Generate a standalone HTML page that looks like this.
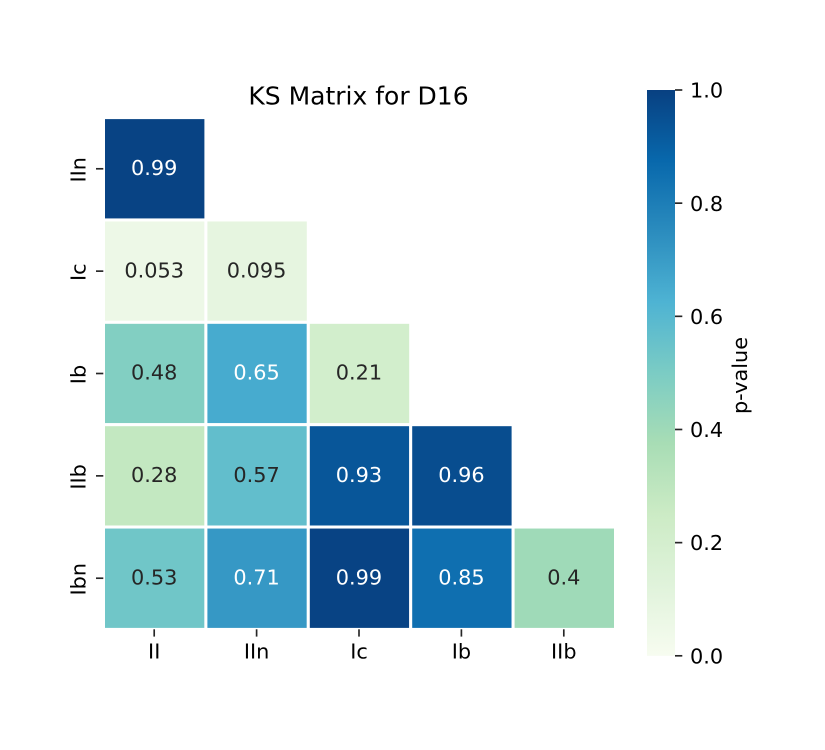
<!DOCTYPE html>
<html lang="en">
<head>
<meta charset="utf-8">
<title>KS Matrix for D16</title>
<style>
html,body{margin:0;padding:0;background:#fff;}
svg{display:block;}
text{font-family:"DejaVu Sans",sans-serif;}
</style>
</head>
<body>
<svg id="chart" xmlns="http://www.w3.org/2000/svg" width="825" height="750" viewBox="0 0 825 750"></svg>
<script>
const xCategories = ['II', 'IIn', 'Ic', 'Ib', 'IIb'];
const yCategories = ['IIn', 'Ic', 'Ib', 'IIb', 'Ibn'];
const rowValues0 = [0.99];
const rowValues1 = [0.053, 0.095];
const rowValues2 = [0.48, 0.65, 0.21];
const rowValues3 = [0.28, 0.57, 0.93, 0.96];
const rowValues4 = [0.53, 0.71, 0.99, 0.85, 0.4];
const colorbarTicks = [0, 0.2, 0.4, 0.6, 0.8, 1];
const colormapHex = ['#f7fcf0', '#e0f3db', '#ccebc5', '#a8ddb5', '#7bccc4', '#4eb3d3', '#2b8cbe', '#0868ac', '#084081'];

const rows = [rowValues0, rowValues1, rowValues2, rowValues3, rowValues4];
const NS = 'http://www.w3.org/2000/svg';
const svg = document.getElementById('chart');
const plot = { left: 103.5, top: 117.6, width: 512, height: 511.8 };
const bar = { left: 647, right: 675, top: 90, bottom: 655.8 };

function xBand(i) { return plot.left + plot.width * i / xCategories.length; }
function yBand(i) { return plot.top + plot.height * i / yCategories.length; }
function barY(v) { return bar.bottom + (bar.top - bar.bottom) * v; }
function parseHex(h) {
  return [parseInt(h.slice(1, 3), 16), parseInt(h.slice(3, 5), 16), parseInt(h.slice(5, 7), 16)];
}
function colorRgb(v) {
  const t = Math.max(0, Math.min(1, v)) * (colormapHex.length - 1);
  const i = Math.min(Math.floor(t), colormapHex.length - 2);
  const a = parseHex(colormapHex[i]);
  const b = parseHex(colormapHex[i + 1]);
  return a.map((c, k) => Math.round(c + (b[k] - c) * (t - i)));
}
function luminance(rgb) {
  const c = rgb.map(x => {
    const s = x / 255;
    return s <= 0.03928 ? s / 12.92 : Math.pow((s + 0.055) / 1.055, 2.4);
  });
  return 0.2126 * c[0] + 0.7152 * c[1] + 0.0722 * c[2];
}
function make(tag, attrs, txt) {
  const el = document.createElementNS(NS, tag);
  for (const k in attrs) el.setAttribute(k, attrs[k]);
  if (txt !== undefined) el.textContent = txt;
  svg.appendChild(el);
  return el;
}

const cellW = plot.width / xCategories.length;
const cellH = plot.height / yCategories.length;

rows.forEach((row, r) => {
  row.forEach((v, c) => {
    const rgb = colorRgb(v);
    const cell = make('rect', {
      x: xBand(c), y: yBand(r), width: cellW, height: cellH,
      fill: 'rgb(' + rgb.join(',') + ')', stroke: '#fff', 'stroke-width': 3
    });
    
    
    const label = make('text', {
      x: xBand(c) + cellW / 2 - 0.5, y: yBand(r) + cellH / 2 + 6.2,
      'text-anchor': 'middle', 'font-size': 20.83,
      fill: luminance(rgb) > 0.408 ? '#262626' : '#ffffff'
    }, String(v));
    
    
  });
});

xCategories.forEach((name, i) => {
  const x = xBand(i) + cellW / 2 - 0.5;
  const tick = make('line', { x1: x, x2: x, y1: 629.3, y2: 636.6, stroke: '#262626', 'stroke-width': 1.67 });
  
  
  const label = make('text', { x: x, y: 658.5, 'text-anchor': 'middle', 'font-size': 20.83, fill: '#000' }, name);
  
  
});

yCategories.forEach((name, i) => {
  const y = yBand(i) + cellH / 2;
  const tick = make('line', { x1: 96, x2: 103.3, y1: y, y2: y, stroke: '#262626', 'stroke-width': 1.67 });
  
  
  const ly = y + 1;
  const label = make('text', {
    x: 85.3, y: ly, 'text-anchor': 'middle', 'font-size': 20.83, fill: '#000',
    transform: 'rotate(-90 85.3 ' + ly + ')'
  }, name);
  
  
});

const title = make('text', { x: 358.5, y: 104.6, 'text-anchor': 'middle', 'font-size': 25, fill: '#000' }, 'KS Matrix for D16');



const defs = make('defs', {});
const grad = document.createElementNS(NS, 'linearGradient');
grad.setAttribute('id', 'cbGrad');
grad.setAttribute('x1', '0');
grad.setAttribute('y1', '1');
grad.setAttribute('x2', '0');
grad.setAttribute('y2', '0');
colormapHex.forEach((hex, i) => {
  const stop = document.createElementNS(NS, 'stop');
  stop.setAttribute('offset', i / (colormapHex.length - 1));
  stop.setAttribute('stop-color', hex);
  grad.appendChild(stop);
});
defs.appendChild(grad);

const cb = make('rect', {
  x: bar.left, y: bar.top, width: bar.right - bar.left, height: bar.bottom - bar.top, fill: 'url(#cbGrad)'
});



colorbarTicks.forEach(v => {
  const y = barY(v);
  const tick = make('line', { x1: bar.right, x2: bar.right + 7.3, y1: y, y2: y, stroke: '#262626', 'stroke-width': 1.67 });
  
  
  const label = make('text', { x: 690, y: y + 7.6, 'font-size': 20.83, fill: '#000' }, v.toFixed(1));
  
  
});

const cbTitle = make('text', {
  x: 747, y: 375.5, 'text-anchor': 'middle', 'font-size': 20.83, fill: '#000',
  transform: 'rotate(-90 747 375.5)'
}, 'p-value');


</script>
</body>
</html>
